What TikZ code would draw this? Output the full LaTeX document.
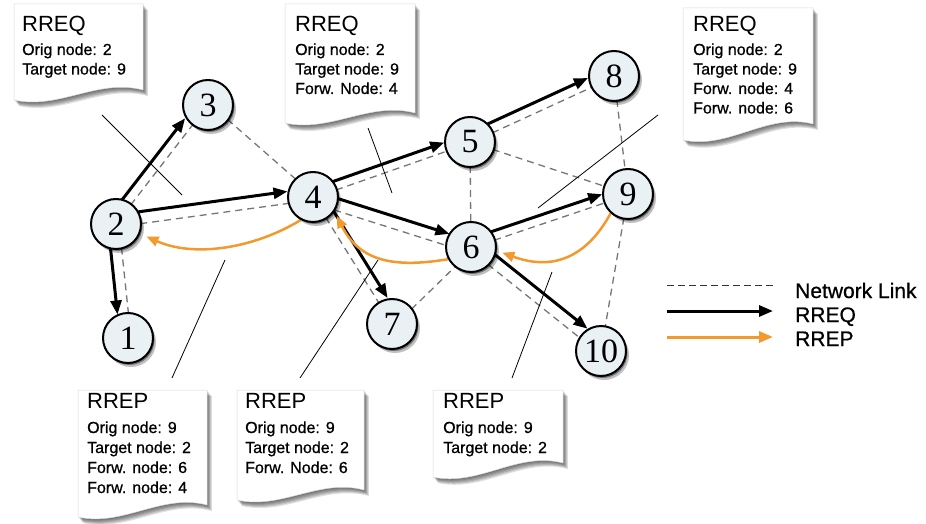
\documentclass[tikz,border=0pt]{standalone}
\usepackage{fontspec}
\setmainfont{Liberation Sans}
\newfontfamily\medfont[FakeBold=0.7]{Liberation Sans}
\newfontfamily\numfont{Liberation Serif}
\usetikzlibrary{calc,arrows.meta,shadows}
\definecolor{nodefill}{HTML}{E9F1F5}
\definecolor{rrepc}{HTML}{F29A2E}
\definecolor{netgray}{HTML}{767676}
\pgfdeclarelayer{bg}
\pgfsetlayers{bg,main}
\tikzset{
  mnode/.style={circle, draw=black, line width=2pt, fill=nodefill, minimum size=50pt, inner sep=0pt,
    font=\numfont\fontsize{34}{34}\selectfont,
    drop shadow={shadow xshift=1.5pt,shadow yshift=-2pt,opacity=0.4,fill=black},
    drop shadow={shadow xshift=3pt,shadow yshift=-4pt,opacity=0.25,fill=black}},
  net/.style={draw=netgray, line width=1.3pt, dash pattern=on 7pt off 5pt},
  rreq/.style={draw=black, line width=3pt, shorten >=24.5pt, -{Triangle[length=14pt,width=11pt]}},
  rrepa/.style={draw=rrepc, line width=2.5pt, -{Triangle[length=12pt,width=10pt]}},
  ptr/.style={draw=black, line width=0.8pt},
  ttl/.style={anchor=base west, inner sep=0pt, font=\fontsize{22}{22}\selectfont},
  ln/.style={anchor=base west, inner sep=0pt, font=\medfont\fontsize{16}{16}\selectfont},
  lgtxt/.style={anchor=base west, inner sep=0pt, font=\medfont\fontsize{21}{21}\selectfont},
}
% link with perpendicular offset
\newcommand\lk[4]{\draw[#1] ($(#2)!#4!90:(#3)$) -- ($(#3)!#4!-90:(#2)$);}
% paper note: x1, top, x2, bottom-left, bottom-right
\newcommand\paper[5]{%
  \foreach \s in {1,2,...,6}{%
    \fill[black,opacity=0.12,shift={(\s*0.8,\s)}] (#1,#2) -- (#3,#2) -- (#3,#5)
      .. controls ({#3-0.35*(#3-#1)},{#5-12}) and ({#1+0.35*(#3-#1)},{#4+10}) .. (#1,#4) -- cycle;}
  \fill[white] (#1,#2) -- (#3,#2) -- (#3,#5)
      .. controls ({#3-0.35*(#3-#1)},{#5-12}) and ({#1+0.35*(#3-#1)},{#4+10}) .. (#1,#4) -- cycle;
  \draw[black!15, line width=0.5pt] (#1,#2) -- (#3,#2) -- (#3,#5)
      .. controls ({#3-0.35*(#3-#1)},{#5-12}) and ({#1+0.35*(#3-#1)},{#4+10}) .. (#1,#4) -- cycle;
}
% note text: name, x, title baseline, first line baseline, step, title, lines
\newcommand\notetext[7]{%
  \node[ttl] (#1t) at (#2,#3) {#6};
  \foreach \t [count=\i] in {#7}{\node[ln] (#1l\i) at (#2,{#4+(\i-1)*#5}) {\t};}
}
\begin{document}
\begin{tikzpicture}[x=1pt,y=-1pt]
\useasboundingbox (0,0) rectangle (926,524);

% network nodes
\node[mnode] (n1) at (128,338) {1};
\node[mnode] (n2) at (116,224) {2};
\node[mnode] (n3) at (208,105) {3};
\node[mnode] (n4) at (313,197) {4};
\node[mnode] (n5) at (470,142) {5};
\node[mnode] (n6) at (471,247) {6};
\node[mnode] (n7) at (392,324) {7};
\node[mnode] (n8) at (614,76) {8};
\node[mnode] (n9) at (628,194) {9};
\node[mnode] (n10) at (601,351) {10};

\begin{pgfonlayer}{bg}
  % network links
  \lk{net}{n2}{n1}{3pt}
  \lk{net}{n2}{n3}{0pt}
  \lk{net}{n2}{n4}{-3pt}
  \lk{net}{n3}{n4}{2pt}
  \lk{net}{n4}{n5}{-1pt}
  \lk{net}{n4}{n6}{-6pt}
  \lk{net}{n4}{n7}{0pt}
  \lk{net}{n5}{n6}{0pt}
  \lk{net}{n5}{n8}{-1pt}
  \lk{net}{n5}{n9}{0pt}
  \lk{net}{n7}{n6}{-3pt}
  \lk{net}{n6}{n9}{-1pt}
  \lk{net}{n6}{n10}{-3pt}
  \lk{net}{n8}{n9}{0pt}
  \lk{net}{n9}{n10}{0pt}
  % RREQ
  \lk{rreq}{n2}{n3}{10pt}
  \lk{rreq}{n2}{n4}{9pt}
  \lk{rreq}{n2}{n1}{-8pt}
  \lk{rreq}{n4}{n5}{8pt}
  \lk{rreq}{n4}{n6}{6pt}
  \lk{rreq}{n4}{n7}{10pt}
  \lk{rreq}{n5}{n8}{9pt}
  \lk{rreq}{n6}{n9}{8pt}
  \lk{rreq}{n6}{n10}{9pt}
  % RREP
  \draw[rrepa, shorten >=6pt] (n9.228) .. controls (588,255) and (555,272) .. (n6.352);
  \draw[rrepa, shorten >=5pt] (n6.208) .. controls (395,268) and (360,262) .. (n4.326);
  \draw[rrepa, shorten >=7pt] (n4.242) .. controls (255,248) and (195,258) .. (n2.338);
\end{pgfonlayer}

% notes
\paper{14}{4}{143}{100}{90}
\notetext{A}{22}{32}{55}{19.5}{RREQ}{Orig node: 2,Target node: 9}
\paper{285}{4}{415}{123}{113}
\notetext{B}{295}{32}{55}{19.5}{RREQ}{Orig node: 2,Target node: 9,Forw. Node: 4}
\paper{683}{8}{813}{140}{124}
\notetext{C}{693}{32}{55}{19.5}{RREQ}{Orig node: 2,Target node: 9,Forw. node: 4,Forw. node: 6}
\paper{78}{390}{207}{517}{505}
\notetext{D}{87}{408}{433}{20}{RREP}{Orig node: 9,Target node: 2,Forw. node: 6,Forw. node: 4}
\paper{237}{390}{364}{500}{490}
\notetext{E}{245}{408}{433}{20}{RREP}{Orig node: 9,Target node: 2,Forw. Node: 6}
\paper{433}{390}{563}{477}{463}
\notetext{F}{443}{408}{433}{20}{RREP}{Orig node: 9,Target node: 2}

% pointer lines
\coordinate (pA1) at (102,115); \coordinate (pA2) at (182,195);
\coordinate (pB1) at (368,128); \coordinate (pB2) at (392,193);
\coordinate (pC1) at (658,115); \coordinate (pC2) at (538,208);
\coordinate (pD1) at (172,378); \coordinate (pD2) at (225,260);
\coordinate (pE1) at (300,378); \coordinate (pE2) at (378,260);
\coordinate (pF1) at (512,378); \coordinate (pF2) at (552,272);
\draw[ptr] (pA1) -- (pA2);
\draw[ptr] (pB1) -- (pB2);
\draw[ptr] (pC1) -- (pC2);
\draw[ptr] (pD1) -- (pD2);
\draw[ptr] (pE1) -- (pE2);
\draw[ptr] (pF1) -- (pF2);

% legend
\coordinate (lg1a) at (667,285); \coordinate (lg1b) at (773,285);
\coordinate (lg2a) at (667,311); \coordinate (lg2b) at (773,311);
\coordinate (lg3a) at (667,337); \coordinate (lg3b) at (773,337);
\draw[black!80, line width=1pt, dash pattern=on 7pt off 4pt] (lg1a) -- (lg1b);
\draw[draw=black, line width=3pt, -{Triangle[length=14pt,width=11pt]}] (lg2a) -- (lg2b);
\draw[draw=rrepc, line width=3pt, -{Triangle[length=14pt,width=11pt]}] (lg3a) -- (lg3b);
\node[lgtxt] (lgt1) at (795,298) {Network Link};
\node[lgtxt] (lgt2) at (795,322) {RREQ};
\node[lgtxt] (lgt3) at (795,346) {RREP};
\end{tikzpicture}
\end{document}
